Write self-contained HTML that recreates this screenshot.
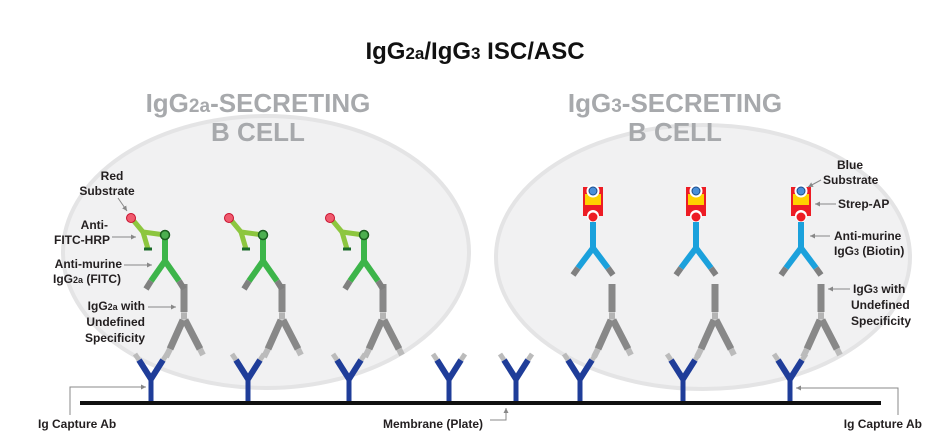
<!DOCTYPE html>
<html><head><meta charset="utf-8"><style>
html,body{margin:0;padding:0;background:#fff;}
svg{display:block;}
text{font-family:"Liberation Sans",sans-serif;}
.l text{font-size:12px;font-weight:bold;fill:#231f20;}
</style></head><body>
<svg width="950" height="448" viewBox="0 0 950 448" xmlns="http://www.w3.org/2000/svg">
<defs>
<marker id="ar" markerWidth="6" markerHeight="6" refX="5" refY="3" orient="auto"><path d="M0,0.5 L5,3 L0,5.5z" fill="#888"/></marker>
<g id="green">
 <line x1="0" y1="235" x2="-22" y2="232" stroke="#8dc63f" stroke-width="5"/>
 <line x1="-22" y1="232" x2="-32" y2="220" stroke="#8dc63f" stroke-width="5"/>
 <line x1="-22" y1="232" x2="-17" y2="249" stroke="#8dc63f" stroke-width="5"/>
 <line x1="-21" y1="249" x2="-13" y2="249" stroke="#1b6b2a" stroke-width="3"/>
 <circle cx="-34" cy="218" r="4.5" fill="#f05a6e" stroke="#c8102e" stroke-width="1"/>
 <line x1="0" y1="235" x2="0" y2="262" stroke="#3db54a" stroke-width="6"/>
 <line x1="0" y1="261" x2="-14" y2="281" stroke="#3db54a" stroke-width="6"/>
 <line x1="0" y1="261" x2="14" y2="281" stroke="#3db54a" stroke-width="6"/>
 <line x1="-14" y1="281" x2="-19" y2="289" stroke="#808080" stroke-width="6"/>
 <line x1="14" y1="281" x2="19" y2="289" stroke="#808080" stroke-width="6"/>
 <circle cx="0" cy="235" r="4.5" fill="#4caf50" stroke="#1b5e20" stroke-width="1.5"/>
</g>
<g id="blue">
 <rect x="-10" y="187" width="20" height="29" fill="#ed1c24"/>
 <rect x="-8" y="194" width="16" height="11" fill="#ffd200"/>
 <circle cx="0" cy="191" r="6.5" fill="#fff"/>
 <circle cx="0" cy="191" r="4" fill="#4a90d9" stroke="#1a4c8c" stroke-width="1"/>
 <circle cx="0" cy="216" r="6" fill="#fff"/>
 <line x1="0" y1="222" x2="0" y2="249" stroke="#1ba1dc" stroke-width="6"/>
 <line x1="0" y1="248" x2="-15" y2="268" stroke="#1ba1dc" stroke-width="6"/>
 <line x1="0" y1="248" x2="15" y2="268" stroke="#1ba1dc" stroke-width="6"/>
 <line x1="-15" y1="268" x2="-20" y2="275" stroke="#808080" stroke-width="6"/>
 <line x1="15" y1="268" x2="20" y2="275" stroke="#808080" stroke-width="6"/>
 <circle cx="0" cy="217" r="4.5" fill="#ed1c24"/>
</g>
<g id="gray">
 <rect x="-3.5" y="284" width="7" height="28" fill="#888"/>
 <rect x="-3" y="312" width="6" height="8" fill="#ccc"/>
 <line x1="-3" y1="314" x2="3" y2="314" stroke="#888" stroke-width="0.7"/>
 <line x1="-3" y1="316" x2="3" y2="316" stroke="#888" stroke-width="0.7"/>
 <line x1="-3" y1="318" x2="3" y2="318" stroke="#888" stroke-width="0.7"/>
 <line x1="-1" y1="320" x2="-14" y2="349" stroke="#888" stroke-width="7"/>
 <line x1="1" y1="320" x2="16" y2="349" stroke="#888" stroke-width="7"/>
 <line x1="-14" y1="349" x2="-18" y2="357" stroke="#bbb" stroke-width="6"/>
 <line x1="16" y1="349" x2="19" y2="355" stroke="#bbb" stroke-width="6"/>
</g>
<g id="cap">
 <line x1="0" y1="378" x2="0" y2="402" stroke="#1f3d99" stroke-width="5"/>
 <line x1="0" y1="379" x2="-12" y2="360" stroke="#1f3d99" stroke-width="6"/>
 <line x1="0" y1="379" x2="12" y2="360" stroke="#1f3d99" stroke-width="6"/>
 <line x1="-12" y1="360" x2="-16" y2="354" stroke="#bbb" stroke-width="5"/>
 <line x1="12" y1="360" x2="16" y2="354" stroke="#bbb" stroke-width="5"/>
</g>
</defs>

<ellipse cx="266" cy="252" rx="203" ry="136" fill="#f1f1f2" stroke="#e4e4e5" stroke-width="4"/>
<ellipse cx="703" cy="257" rx="207" ry="132" fill="#f1f1f2" stroke="#e4e4e5" stroke-width="4"/>

<text x="475" y="59" text-anchor="middle" font-size="24" font-weight="bold" fill="#111">IgG<tspan font-size="17">2a</tspan>/IgG<tspan font-size="17">3</tspan> ISC/ASC</text>
<text x="258" y="112" text-anchor="middle" font-size="26" font-weight="bold" fill="#a7a9ac">IgG<tspan font-size="19">2a</tspan>-SECRETING</text>
<text x="258" y="141" text-anchor="middle" font-size="26" font-weight="bold" fill="#a7a9ac">B CELL</text>
<text x="675" y="112" text-anchor="middle" font-size="26" font-weight="bold" fill="#a7a9ac">IgG<tspan font-size="19">3</tspan>-SECRETING</text>
<text x="675" y="141" text-anchor="middle" font-size="26" font-weight="bold" fill="#a7a9ac">B CELL</text>

<use href="#cap" x="151"/><use href="#cap" x="248"/><use href="#cap" x="349"/>
<use href="#cap" x="449"/><use href="#cap" x="516"/><use href="#cap" x="580"/>
<use href="#cap" x="683"/><use href="#cap" x="790"/>

<use href="#gray" x="184"/><use href="#gray" x="282"/><use href="#gray" x="383"/>
<use href="#gray" x="612"/><use href="#gray" x="715"/><use href="#gray" x="821"/>
<use href="#green" x="165"/><use href="#green" x="263"/><use href="#green" x="364"/>
<use href="#blue" x="593"/><use href="#blue" x="696"/><use href="#blue" x="801"/>

<rect x="80" y="401" width="801" height="4" fill="#111"/>

<g stroke="#888" stroke-width="1" fill="none">
 <line x1="118" y1="198" x2="127" y2="211" marker-end="url(#ar)"/>
 <line x1="112" y1="237" x2="136" y2="237" marker-end="url(#ar)"/>
 <line x1="124" y1="265" x2="152" y2="265" marker-end="url(#ar)"/>
 <line x1="148" y1="307" x2="176" y2="307" marker-end="url(#ar)"/>
 <line x1="821" y1="180" x2="808" y2="187" marker-end="url(#ar)"/>
 <line x1="836" y1="204" x2="815" y2="204" marker-end="url(#ar)"/>
 <line x1="830" y1="236" x2="810" y2="236" marker-end="url(#ar)"/>
 <line x1="850" y1="289" x2="828" y2="289" marker-end="url(#ar)"/>
 <polyline points="70,415 70,387 146,387" marker-end="url(#ar)"/>
 <polyline points="898,415 898,388 796,388" marker-end="url(#ar)"/>
 <polyline points="490,420 506,420 506,408" marker-end="url(#ar)"/>
</g>

<g class="l">
 <text x="112" y="180" text-anchor="middle">Red</text>
 <text x="107" y="195" text-anchor="middle">Substrate</text>
 <text x="108" y="229" text-anchor="end">Anti-</text>
 <text x="110" y="244" text-anchor="end">FITC-HRP</text>
 <text x="122" y="268" text-anchor="end">Anti-murine</text>
 <text x="121" y="283" text-anchor="end">IgG<tspan font-size="9">2a</tspan> (FITC)</text>
 <text x="145" y="310" text-anchor="end">IgG<tspan font-size="9">2a</tspan> with</text>
 <text x="145" y="326" text-anchor="end">Undefined</text>
 <text x="145" y="342" text-anchor="end">Specificity</text>
 <text x="837" y="169">Blue</text>
 <text x="823" y="184">Substrate</text>
 <text x="838" y="208">Strep-AP</text>
 <text x="834" y="240">Anti-murine</text>
 <text x="834" y="255">IgG<tspan font-size="9">3</tspan> (Biotin)</text>
 <text x="853" y="293">IgG<tspan font-size="9">3</tspan> with</text>
 <text x="851" y="309">Undefined</text>
 <text x="851" y="325">Specificity</text>
 <text x="38" y="428">Ig Capture Ab</text>
 <text x="433" y="428" text-anchor="middle">Membrane (Plate)</text>
 <text x="922" y="428" text-anchor="end">Ig Capture Ab</text>
</g>
</svg>
</body></html>
